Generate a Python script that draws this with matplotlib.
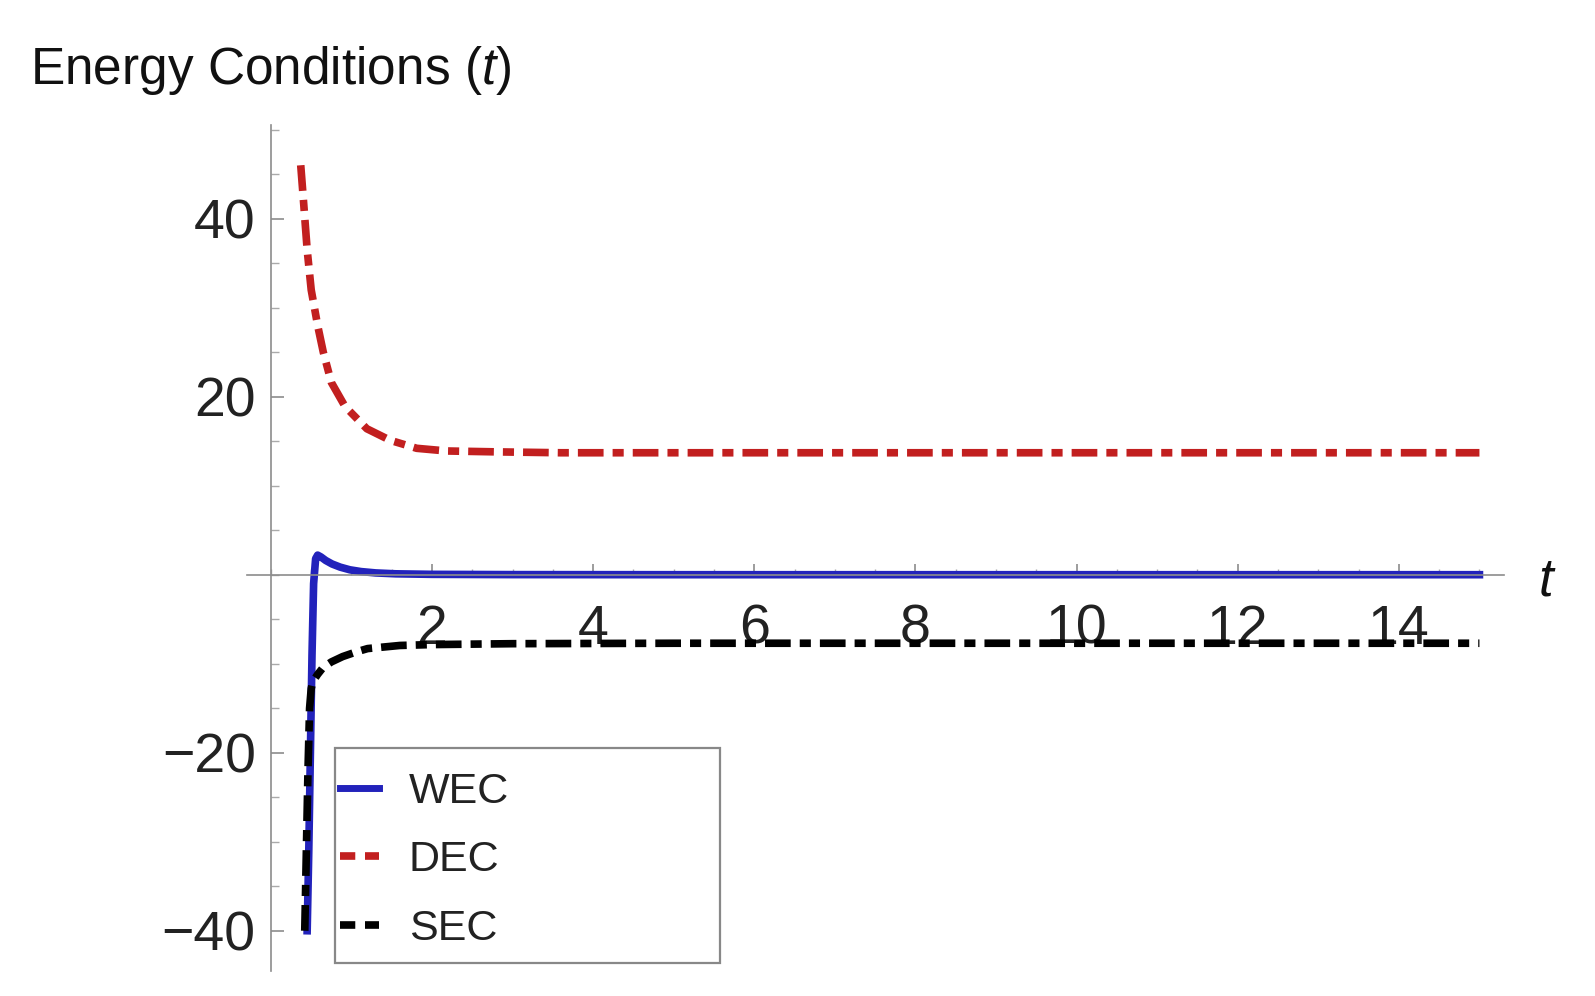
import matplotlib
matplotlib.use("Agg")
import matplotlib.pyplot as plt
from matplotlib.ticker import FixedLocator, MultipleLocator
from matplotlib.lines import Line2D
from matplotlib.patches import Rectangle

# --- data ---
t_wec = [0.45, 0.47, 0.49, 0.51, 0.53, 0.555, 0.58, 0.62, 0.68, 0.76, 0.86, 0.98,
         1.12, 1.3, 1.55, 2.0, 3.0, 5.0, 15.0]
wec = [-40, -31, -20, -9, -1, 1.8, 2.2, 2.0, 1.6, 1.2, 0.85, 0.55,
       0.35, 0.2, 0.1, 0.04, 0.01, 0.0, 0.0]

t_dec = [0.37, 0.40, 0.45, 0.50, 0.58, 0.65, 0.75, 0.92, 1.19, 1.48, 1.81, 2.18, 2.8, 3.6, 6.0, 10.0, 15.0]
dec = [46.0, 42.5, 36.5, 32.0, 28.0, 25.0, 21.6, 18.9, 16.4, 15.1, 14.2, 13.9, 13.8, 13.7, 13.7, 13.7, 13.7]

t_sec = [0.42, 0.44, 0.46, 0.48, 0.50, 0.52, 0.58, 0.65, 0.75, 0.89, 1.05, 1.2, 1.6, 2.0, 3.0, 5.0, 15.0]
sec = [-40, -31, -22, -15, -12.8, -12.0, -11.2, -10.4, -9.8, -9.2, -8.7, -8.3, -7.95, -7.85, -7.75, -7.7, -7.7]

labels = ["WEC", "DEC", "SEC"]
x_ticks = [2, 4, 6, 8, 10, 12, 14]
y_ticks = [-40, -20, 20, 40]

# --- style ---
plt.rcParams["font.family"] = ["Liberation Sans", "DejaVu Sans"]
plt.rcParams["mathtext.fontset"] = "custom"
plt.rcParams["mathtext.rm"] = "Liberation Sans"
plt.rcParams["mathtext.it"] = "Liberation Sans:italic"
plt.rcParams["lines.scale_dashes"] = False

blue = "#2222bb"
red = "#c21f1f"
black = "#000000"
axis_gray = "#8c8c8c"
dash_dot = (0, (18.5, 6.5, 8.0, 6.5))

fig = plt.figure(figsize=(15.95, 9.96), dpi=100)
ax = fig.add_axes([0.1547, 0.0253, 0.788, 0.849])

ax.plot(t_wec, wec, color=blue, lw=5.5, solid_joinstyle="round")
ax.plot(t_dec, dec, color=red, lw=5.5, linestyle=dash_dot)
ax.plot(t_sec, sec, color=black, lw=5.5, linestyle=dash_dot)

ax.set_xlim(-0.3, 15.3)
ax.set_ylim(-44.5, 50.5)

for side in ["top", "right"]:
    ax.spines[side].set_visible(False)
ax.spines["left"].set_position(("data", 0))
ax.spines["bottom"].set_position(("data", 0))
for side in ["left", "bottom"]:
    ax.spines[side].set_color(axis_gray)
    ax.spines[side].set_linewidth(1.2)

ax.xaxis.set_major_locator(FixedLocator(x_ticks))
ax.xaxis.set_minor_locator(MultipleLocator(0.5))
ax.yaxis.set_major_locator(FixedLocator(y_ticks))
ax.yaxis.set_minor_locator(MultipleLocator(5))

ax.tick_params(axis="x", which="major", direction="in", length=8, width=1.2,
               color=axis_gray, labelsize=40, labelcolor="#222222", pad=21)
ax.tick_params(axis="x", which="minor", direction="in", length=4.5, width=1.0, color="#aaaaaa")
ax.tick_params(axis="y", which="major", direction="in", length=9.5, width=1.2,
               color=axis_gray, labelsize=40, labelcolor="#222222", pad=11)
ax.tick_params(axis="y", which="minor", direction="in", length=6, width=1.0, color="#aaaaaa")

# title and axis label
fig.text(0.019, 1 - 84 / 996, "Energy Conditions ($t$)", fontsize=37,
         color="#111111", ha="left", va="baseline")
fig.text(1547 / 1595, 1 - 581 / 996, "$t$", fontsize=38, color="#111111",
         ha="center", va="center")

# legend box
fig.patches.append(Rectangle((335 / 1595, 1 - 963 / 996), 385 / 1595, 215 / 996,
                             transform=fig.transFigure, facecolor="white",
                             edgecolor="#888888", lw=1.6, zorder=5))
handles = [
    Line2D([], [], color=blue, lw=5.0),
    Line2D([], [], color=red, lw=5.5, linestyle=(0, (11, 7))),
    Line2D([], [], color=black, lw=5.5, linestyle=(0, (11, 7))),
]
fig.legend(handles, labels, loc="upper left",
           bbox_to_anchor=(340 / 1595, 1 - 772 / 996),
           frameon=False, fontsize=31, borderpad=0, borderaxespad=0,
           handlelength=0.9, handletextpad=0.7, labelspacing=0.66,
           labelcolor="#222222")

fig.savefig("out.png", dpi=100)
